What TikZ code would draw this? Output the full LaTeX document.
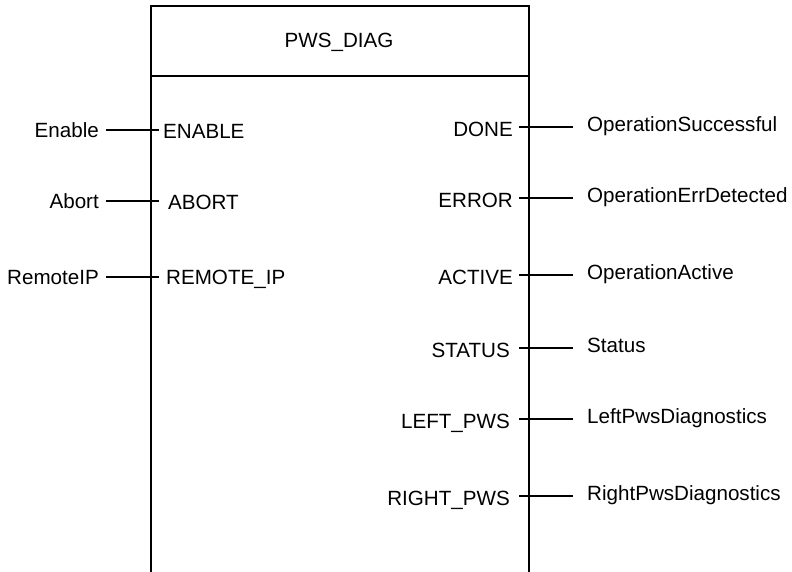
\documentclass[tikz,border=0pt]{standalone}
\usepackage{fontspec}
\setmainfont{Liberation Sans}
\usetikzlibrary{positioning}
\tikzset{
  fbbox/.style={line width=1.8pt},
  pinlbl/.style={font=\fontsize{20.6}{24}\selectfont,inner sep=0pt,text height=14.7pt,text depth=0pt},
  varlbl/.style={font=\fontsize{20.6}{24}\selectfont,inner sep=0pt,text height=14.7pt,text depth=0pt},
  pinwire/.style={line width=1.8pt}
}

\begin{document}
\begin{tikzpicture}[x=1pt,y=-1pt]
  \useasboundingbox (0,0) rectangle (792,572);

  % --- Bloc fonctionnel ---
  \draw[fbbox] (151,572) -- (151,6) -- (529,6) -- (529,572);
  \draw[fbbox] (151,76) -- (529,76);
  \node[pinlbl] (title) at (339,40) {PWS\_DIAG};

  % --- Entrées ---
  \coordinate (aEnable) at (106,130);
  \coordinate (bEnable) at (159,130);
  \node[varlbl,left=7pt of aEnable] (vEnable) {Enable};
  \node[pinlbl,anchor=west] (pEnable) at (163,131) {ENABLE};
  \draw[pinwire] (aEnable) -- (bEnable);

  \coordinate (aAbort) at (106,201);
  \coordinate (bAbort) at (159,201);
  \node[varlbl,left=7pt of aAbort] (vAbort) {Abort};
  \node[pinlbl,anchor=west] (pAbort) at (168,202) {ABORT};
  \draw[pinwire] (aAbort) -- (bAbort);

  \coordinate (aRemote) at (106,277);
  \coordinate (bRemote) at (159,277);
  \node[varlbl,left=7pt of aRemote] (vRemote) {RemoteIP};
  \node[pinlbl,anchor=west] (pRemote) at (166,277) {REMOTE\_IP};
  \draw[pinwire] (aRemote) -- (bRemote);

  % --- Sorties ---
  \coordinate (aDone) at (519,127);
  \coordinate (bDone) at (573,127);
  \node[pinlbl,anchor=east] (pDone) at (513,129) {DONE};
  \node[varlbl,right=14pt of bDone,yshift=3pt] (vDone) {OperationSuccessful};
  \draw[pinwire] (aDone) -- (bDone);

  \coordinate (aError) at (519,198);
  \coordinate (bError) at (573,198);
  \node[pinlbl,anchor=east] (pError) at (513,200.5) {ERROR};
  \node[varlbl,right=14pt of bError,yshift=3pt] (vError) {OperationErrDetected};
  \draw[pinwire] (aError) -- (bError);

  \coordinate (aActive) at (519,275);
  \coordinate (bActive) at (573,275);
  \node[pinlbl,anchor=east] (pActive) at (513,277) {ACTIVE};
  \node[varlbl,right=14pt of bActive,yshift=3pt] (vActive) {OperationActive};
  \draw[pinwire] (aActive) -- (bActive);

  \coordinate (aStatus) at (519,348);
  \coordinate (bStatus) at (573,348);
  \node[pinlbl,anchor=east] (pStatus) at (510,350.5) {STATUS};
  \node[varlbl,right=14pt of bStatus,yshift=3pt] (vStatus) {Status};
  \draw[pinwire] (aStatus) -- (bStatus);

  \coordinate (aLeft) at (519,419);
  \coordinate (bLeft) at (573,419);
  \node[pinlbl,anchor=east] (pLeft) at (510,421.5) {LEFT\_PWS};
  \node[varlbl,right=14pt of bLeft,yshift=3pt] (vLeft) {LeftPwsDiagnostics};
  \draw[pinwire] (aLeft) -- (bLeft);

  \coordinate (aRight) at (519,496);
  \coordinate (bRight) at (573,496);
  \node[pinlbl,anchor=east] (pRight) at (510,498.5) {RIGHT\_PWS};
  \node[varlbl,right=14pt of bRight,yshift=3pt] (vRight) {RightPwsDiagnostics};
  \draw[pinwire] (aRight) -- (bRight);

\end{tikzpicture}
\end{document}
